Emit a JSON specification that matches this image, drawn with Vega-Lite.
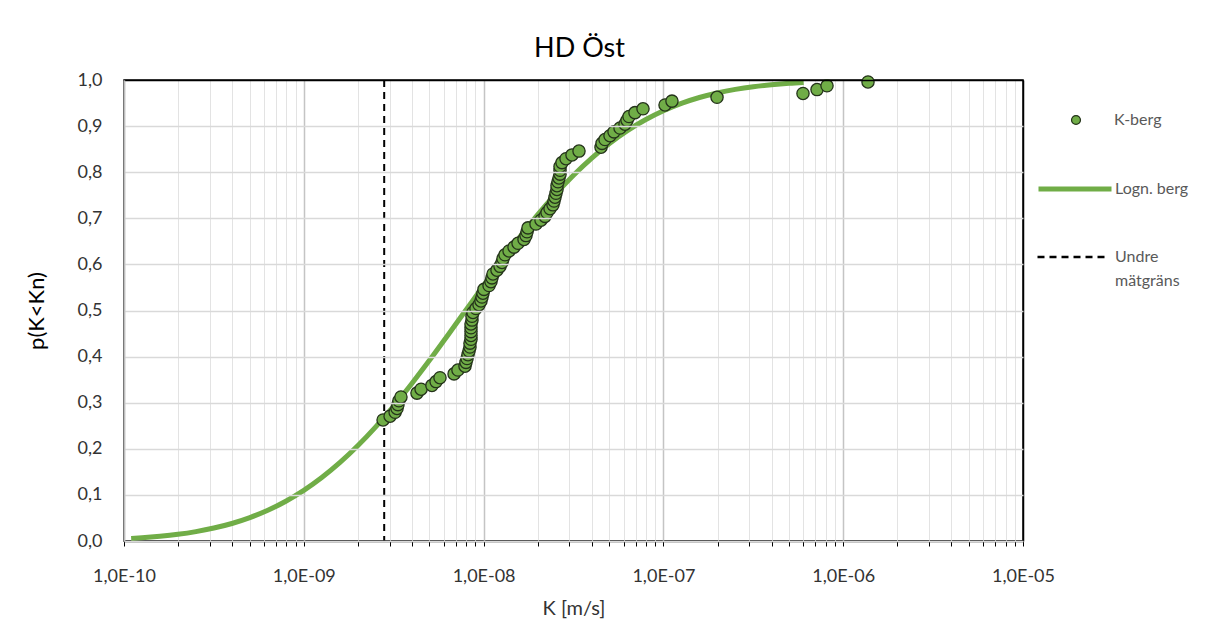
{
  "$schema": "https://vega.github.io/schema/vega-lite/v6.json",
  "autosize": {"type": "none"},
  "padding": {"left": 124, "top": 80, "right": 190, "bottom": 84},
  "width": 899,
  "height": 461,
  "background": "white",
  "title": {"text": "HD Öst", "font": "Lato", "fontSize": 27, "fontWeight": "normal", "color": "black", "anchor": "middle", "frame": "group", "baseline": "bottom", "offset": 20, "dx": 6, "dy": 39},
  "config": {"view": {"stroke": "black", "strokeWidth": 1.5}, "font": "Lato"},
  "datasets": {
    "points": [
      {"K": 2.76e-9, "p": 0.2625}, {"K": 3.02e-9, "p": 0.2708}, {"K": 3.22e-9, "p": 0.2792}, {"K": 3.30e-9, "p": 0.2875},
      {"K": 3.34e-9, "p": 0.2958}, {"K": 3.38e-9, "p": 0.3042}, {"K": 3.47e-9, "p": 0.3125}, {"K": 4.26e-9, "p": 0.3208},
      {"K": 4.49e-9, "p": 0.3292}, {"K": 5.16e-9, "p": 0.3375}, {"K": 5.44e-9, "p": 0.3458}, {"K": 5.72e-9, "p": 0.3542},
      {"K": 6.85e-9, "p": 0.3625}, {"K": 7.20e-9, "p": 0.3708}, {"K": 7.88e-9, "p": 0.3792}, {"K": 7.98e-9, "p": 0.3875},
      {"K": 8.09e-9, "p": 0.3958}, {"K": 8.19e-9, "p": 0.4042}, {"K": 8.30e-9, "p": 0.4125}, {"K": 8.40e-9, "p": 0.4208},
      {"K": 8.40e-9, "p": 0.4292}, {"K": 8.51e-9, "p": 0.4375}, {"K": 8.51e-9, "p": 0.4458}, {"K": 8.51e-9, "p": 0.4542},
      {"K": 8.51e-9, "p": 0.4625}, {"K": 8.51e-9, "p": 0.4708}, {"K": 8.62e-9, "p": 0.4792}, {"K": 8.62e-9, "p": 0.4875},
      {"K": 8.73e-9, "p": 0.4958}, {"K": 9.07e-9, "p": 0.5042}, {"K": 9.43e-9, "p": 0.5125}, {"K": 9.67e-9, "p": 0.5208},
      {"K": 9.80e-9, "p": 0.5292}, {"K": 9.92e-9, "p": 0.5375}, {"K": 1.005e-8, "p": 0.5458}, {"K": 1.072e-8, "p": 0.5542},
      {"K": 1.099e-8, "p": 0.5625}, {"K": 1.113e-8, "p": 0.5708}, {"K": 1.128e-8, "p": 0.5792}, {"K": 1.187e-8, "p": 0.5875},
      {"K": 1.234e-8, "p": 0.5958}, {"K": 1.266e-8, "p": 0.6042}, {"K": 1.282e-8, "p": 0.6125}, {"K": 1.315e-8, "p": 0.6208},
      {"K": 1.385e-8, "p": 0.6292}, {"K": 1.476e-8, "p": 0.6375}, {"K": 1.554e-8, "p": 0.6458}, {"K": 1.678e-8, "p": 0.6542},
      {"K": 1.721e-8, "p": 0.6625}, {"K": 1.744e-8, "p": 0.6708}, {"K": 1.766e-8, "p": 0.6792}, {"K": 1.956e-8, "p": 0.6875},
      {"K": 2.086e-8, "p": 0.6958}, {"K": 2.196e-8, "p": 0.7042}, {"K": 2.253e-8, "p": 0.7125}, {"K": 2.341e-8, "p": 0.7208},
      {"K": 2.432e-8, "p": 0.7292}, {"K": 2.464e-8, "p": 0.7375}, {"K": 2.495e-8, "p": 0.7458}, {"K": 2.527e-8, "p": 0.7542},
      {"K": 2.56e-8, "p": 0.7625}, {"K": 2.56e-8, "p": 0.7708}, {"K": 2.593e-8, "p": 0.7792}, {"K": 2.627e-8, "p": 0.7875},
      {"K": 2.661e-8, "p": 0.7958}, {"K": 2.661e-8, "p": 0.8042}, {"K": 2.661e-8, "p": 0.8125}, {"K": 2.729e-8, "p": 0.8208},
      {"K": 2.873e-8, "p": 0.8292}, {"K": 3.102e-8, "p": 0.8375}, {"K": 3.393e-8, "p": 0.8458}, {"K": 4.498e-8, "p": 0.8542},
      {"K": 4.556e-8, "p": 0.8625}, {"K": 4.734e-8, "p": 0.8708}, {"K": 5.047e-8, "p": 0.8792}, {"K": 5.313e-8, "p": 0.8875},
      {"K": 5.736e-8, "p": 0.8958}, {"K": 6.115e-8, "p": 0.9042}, {"K": 6.275e-8, "p": 0.9125}, {"K": 6.437e-8, "p": 0.9208},
      {"K": 6.95e-8, "p": 0.9292}, {"K": 7.70e-8, "p": 0.9375}, {"K": 1.021e-7, "p": 0.9458}, {"K": 1.116e-7, "p": 0.9542},
      {"K": 1.987e-7, "p": 0.9625}, {"K": 5.975e-7, "p": 0.9708}, {"K": 7.152e-7, "p": 0.9792}, {"K": 8.127e-7, "p": 0.9875},
      {"K": 1.374e-6, "p": 0.9958}
    ],
    "curve": [
      {"K": 1.096e-10, "p": 0.0056}, {"K": 1.259e-10, "p": 0.0070}, {"K": 1.585e-10, "p": 0.0102}, {"K": 1.995e-10, "p": 0.0145},
      {"K": 2.512e-10, "p": 0.0204}, {"K": 3.162e-10, "p": 0.0281}, {"K": 3.981e-10, "p": 0.0380}, {"K": 5.012e-10, "p": 0.0508},
      {"K": 6.31e-10, "p": 0.0667}, {"K": 7.943e-10, "p": 0.0863}, {"K": 1e-9, "p": 0.1097}, {"K": 1.259e-9, "p": 0.1376},
      {"K": 1.585e-9, "p": 0.1698}, {"K": 1.995e-9, "p": 0.2065}, {"K": 2.512e-9, "p": 0.2476}, {"K": 3.162e-9, "p": 0.2926},
      {"K": 3.981e-9, "p": 0.3412}, {"K": 5.012e-9, "p": 0.3924}, {"K": 6.31e-9, "p": 0.4459}, {"K": 7.943e-9, "p": 0.5},
      {"K": 1e-8, "p": 0.5541}, {"K": 1.259e-8, "p": 0.6076}, {"K": 1.585e-8, "p": 0.6588}, {"K": 1.995e-8, "p": 0.7074},
      {"K": 2.512e-8, "p": 0.7524}, {"K": 3.162e-8, "p": 0.7935}, {"K": 3.981e-8, "p": 0.8302}, {"K": 5.012e-8, "p": 0.8624},
      {"K": 6.31e-8, "p": 0.8903}, {"K": 7.943e-8, "p": 0.9137}, {"K": 1e-7, "p": 0.9333}, {"K": 1.259e-7, "p": 0.9492},
      {"K": 1.585e-7, "p": 0.9620}, {"K": 1.995e-7, "p": 0.9719}, {"K": 2.512e-7, "p": 0.9796}, {"K": 3.162e-7, "p": 0.9855},
      {"K": 3.981e-7, "p": 0.9898}, {"K": 5.012e-7, "p": 0.9930}, {"K": 6.026e-7, "p": 0.9948}
    ],
    "limit": [{"K": 2.8e-9}]
  },
  "resolve": {"axis": {"x": "independent"}},
  "layer": [
    {
      "data": {"name": "limit"},
      "mark": {"type": "rule", "color": "black", "strokeWidth": 2},
      "encoding": {
        "x": {"field": "K", "type": "quantitative",
          "scale": {"type": "log", "domain": [1e-10, 1e-5], "nice": false},
          "axis": {"orient": "bottom", "title": null, "labels": false, "domain": false, "grid": true, "gridColor": "#e3e3e3", "gridWidth": 1, "ticks": true, "tickColor": "black", "tickSize": 5, "tickWidth": 1,
            "values": [2e-10,3e-10,4e-10,5e-10,6e-10,7e-10,8e-10,9e-10,2e-9,3e-9,4e-9,5e-9,6e-9,7e-9,8e-9,9e-9,2e-8,3e-8,4e-8,5e-8,6e-8,7e-8,8e-8,9e-8,2e-7,3e-7,4e-7,5e-7,6e-7,7e-7,8e-7,9e-7,2e-6,3e-6,4e-6,5e-6,6e-6,7e-6,8e-6,9e-6]}},
        "strokeDash": {"datum": "Undre mätgräns",
          "scale": {"domain": ["Undre mätgräns"], "range": [[7, 5]]},
          "legend": {"orient": "none", "legendX": 912, "legendY": 142, "title": null, "symbolType": "stroke", "symbolSize": 4489, "symbolStrokeColor": "black", "symbolStrokeWidth": 2.5, "symbolDash": [10, 7],
            "labelOffset": 9, "labelFont": "Lato", "labelFontSize": 16, "labelColor": "#595959", "labelLimit": 200,
            "labelExpr": "['Undre', 'mätgräns']",
            "encode": {"labels": {"update": {"lineHeight": {"value": 24}}}}}}
      }
    },
    {
      "data": {"name": "curve"},
      "mark": {"type": "line", "strokeWidth": 5, "interpolate": "monotone"},
      "encoding": {
        "x": {"field": "K", "type": "quantitative",
          "scale": {"type": "log", "domain": [1e-10, 1e-5], "nice": false},
          "axis": {"orient": "bottom", "values": [1e-10, 1e-9, 1e-8, 1e-7, 1e-6, 1e-5],
            "labelExpr": "'1,0E-' + (round(-log(datum.value)/LN10) < 10 ? '0' : '') + round(-log(datum.value)/LN10)",
            "grid": true, "gridColor": {"condition": {"test": "datum.value > 5e-6", "value": "black"}, "value": "#c4c4c4"}, "gridWidth": 1.5, "ticks": true, "tickColor": "black", "tickSize": 5, "tickWidth": 1,
            "domain": true, "domainColor": "black", "domainWidth": 1.5,
            "labelFont": "Lato", "labelFontSize": 18, "labelColor": "#333333", "labelPadding": 21, "labelFlush": false, "labelOverlap": false,
            "title": "K [m/s]", "titleFont": "Lato", "titleFontSize": 20, "titleFontWeight": "normal", "titleColor": "#333333", "titlePadding": 13}},
        "y": {"field": "p", "type": "quantitative",
          "scale": {"domain": [0, 1], "nice": false},
          "axis": {"values": [0, 0.1, 0.2, 0.3, 0.4, 0.5, 0.6, 0.7, 0.8, 0.9, 1.0],
            "labelExpr": "replace(format(datum.value, '.1f'), '.', ',')",
            "grid": true, "gridColor": {"condition": {"test": "datum.value > 0.95", "value": "black"}, "value": "#d9d9d9"}, "gridWidth": 1.5, "ticks": false, "domainColor": "#bfbfbf", "domainWidth": 1.5,
            "labelFont": "Lato", "labelFontSize": 18, "labelColor": "#333333", "labelPadding": 22,
            "title": "p(K<Kn)", "titleFont": "Lato", "titleFontSize": 22, "titleFontWeight": "normal", "titleColor": "black", "titlePadding": 29, "zindex": 1}},
        "stroke": {"datum": "Logn. berg",
          "scale": {"domain": ["Logn. berg"], "range": ["#70ad47"]},
          "legend": {"orient": "none", "legendX": 912, "legendY": 70, "title": null, "symbolType": "stroke", "symbolSize": 5329, "symbolStrokeWidth": 5,
            "labelOffset": 1, "labelFont": "Lato", "labelFontSize": 16, "labelColor": "#595959"}}
      }
    },
    {
      "data": {"name": "points"},
      "mark": {"type": "point", "filled": true, "size": 150, "stroke": "#24331a", "strokeWidth": 1.3, "opacity": 1},
      "encoding": {
        "x": {"field": "K", "type": "quantitative", "scale": {"type": "log", "domain": [1e-10, 1e-5], "nice": false}, "axis": null},
        "y": {"field": "p", "type": "quantitative", "scale": {"domain": [0, 1], "nice": false},
          "axis": {"values": [0, 0.1, 0.2, 0.3, 0.4, 0.5, 0.6, 0.7, 0.8, 0.9, 1.0],
            "labelExpr": "replace(format(datum.value, '.1f'), '.', ',')",
            "grid": true, "gridColor": {"condition": {"test": "datum.value > 0.95", "value": "black"}, "value": "#d9d9d9"}, "gridWidth": 1.5, "ticks": false, "domainColor": "#bfbfbf", "domainWidth": 1.5,
            "labelFont": "Lato", "labelFontSize": 18, "labelColor": "#333333", "labelPadding": 22,
            "title": "p(K<Kn)", "titleFont": "Lato", "titleFontSize": 22, "titleFontWeight": "normal", "titleColor": "black", "titlePadding": 29, "zindex": 1}},
        "fill": {"datum": "K-berg",
          "scale": {"domain": ["K-berg"], "range": ["#70ad47"]},
          "legend": {"orient": "none", "legendX": 944, "legendY": 32, "title": null, "symbolType": "circle", "symbolSize": 80, "symbolStrokeColor": "#24331a", "symbolStrokeWidth": 1.2, "symbolFillColor": "#70ad47",
            "labelOffset": 30, "labelFont": "Lato", "labelFontSize": 16, "labelColor": "#595959"}}
      }
    }
  ]
}
